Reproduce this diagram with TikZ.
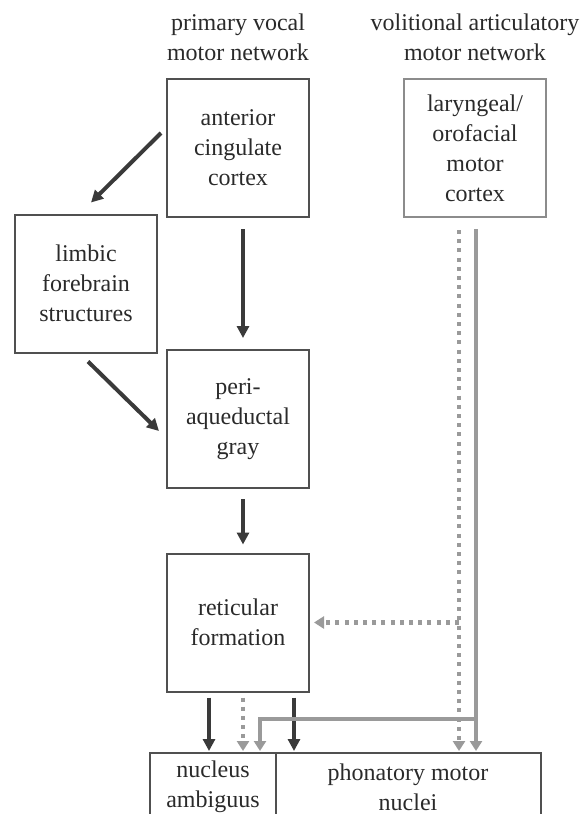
\documentclass[tikz,border=0pt]{standalone}
\usepackage{fontspec}
\setmainfont{Liberation Serif}
\usetikzlibrary{calc}
\usetikzlibrary{positioning}
\usetikzlibrary{arrows.meta}

\definecolor{boxline}{HTML}{505050}
\definecolor{lightbox}{HTML}{8C8C8C}
\definecolor{darkarrow}{HTML}{3A3A3A}
\definecolor{greyarrow}{HTML}{9A9A9A}
\definecolor{textcol}{HTML}{2A2A2A}

\begin{document}
\begin{tikzpicture}[x=0.5pt, y=-0.5pt,
    txt/.style={align=center, text=textcol, font=\fontsize{12}{15}\selectfont},
    box/.style={txt, rectangle, draw=boxline, line width=1pt, minimum width=71pt, minimum height=69pt, inner sep=0pt},
    darkarr/.style={draw=darkarrow, line width=2pt, -{Triangle[length=6pt, width=6pt]}},
    greyarr/.style={draw=greyarrow, line width=1.7pt, -{Triangle[length=5pt, width=6pt]}},
    dotarr/.style={draw=greyarrow, line width=2.4pt, dash pattern=on 2pt off 2.6pt, -{Triangle[length=5pt, width=6pt]}}]
    \useasboundingbox (0,0) rectangle (582,814);

    % network titles
    \node[txt] (primary) at (238,37) {primary vocal\\motor network};
    \node[txt] (volitional) at (475,37) {volitional articulatory\\motor network};

    % boxes
    \node[box] (acc) at (238,148) {anterior\\cingulate\\cortex};
    \node[box, draw=lightbox] (laryn) at (475,148) {laryngeal/\\orofacial\\motor\\cortex};
    \node[box] (limbic) at (86,283.5) {limbic\\forebrain\\structures};
    \node[box] (pag) at (238,419) {peri-\\aqueductal\\gray};
    \node[box] (reticular) at (238,622.5) {reticular\\formation};

    % nuclei at the bottom, open below
    \draw[boxline, line width=1pt] (150,814) |- (541,753) -- (541,814);
    \draw[boxline, line width=1pt] (276,753) -- (276,814);
    \node[txt] (nucleus) at (213,787) {nucleus\\ambiguus};
    \node[txt] (phonatory) at (408,787) {phonatory motor\\nuclei};
    \coordinate (nucTop) at (213,751);
    \coordinate (phonTop) at (408,751);

    % primary vocal pathway
    \draw[darkarr] ($(acc.west)+(-5,-15)$) -- ($(limbic.north)+(5,-11)$);
    \draw[darkarr] ($(acc.south)+(5,11)$) -- ($(pag.north)+(5,-11)$);
    \draw[darkarr] ($(limbic.south)+(2,8)$) -- ($(pag.west)+(-7,12)$);
    \draw[darkarr] ($(pag.south)+(5,10)$) -- ($(reticular.north)+(5,-8)$);
    \coordinate (retLeft) at ($(reticular.south)+(-29,5)$);
    \coordinate (retMid) at ($(reticular.south)+(5,5)$);
    \coordinate (retRight) at ($(reticular.south)+(56,5)$);
    \draw[darkarr] (retLeft) -- (retLeft |- nucTop);
    \draw[darkarr] (retRight) -- (retRight |- phonTop);
    \draw[dotarr] (retMid) -- (retMid |- nucTop);

    % volitional pathway
    \coordinate (dotSplit) at ($(laryn.south)+(-16,12)$);
    \coordinate (lineSplit) at ($(laryn.south)+(1,11)$);
    \coordinate (lineTurn) at ($(lineSplit |- phonTop)+(0,-32)$);
    \coordinate (nucSide) at ($(nucTop)+(47,0)$);
    \draw[dotarr] (dotSplit) -- (dotSplit |- phonTop);
    \draw[dotarr] (dotSplit |- reticular.east) -- ($(reticular.east)+(4,0)$);
    \draw[greyarr] (lineSplit) -- (lineSplit |- phonTop);
    \draw[greyarr] (lineTurn) -| (nucSide);
\end{tikzpicture}
\end{document}
